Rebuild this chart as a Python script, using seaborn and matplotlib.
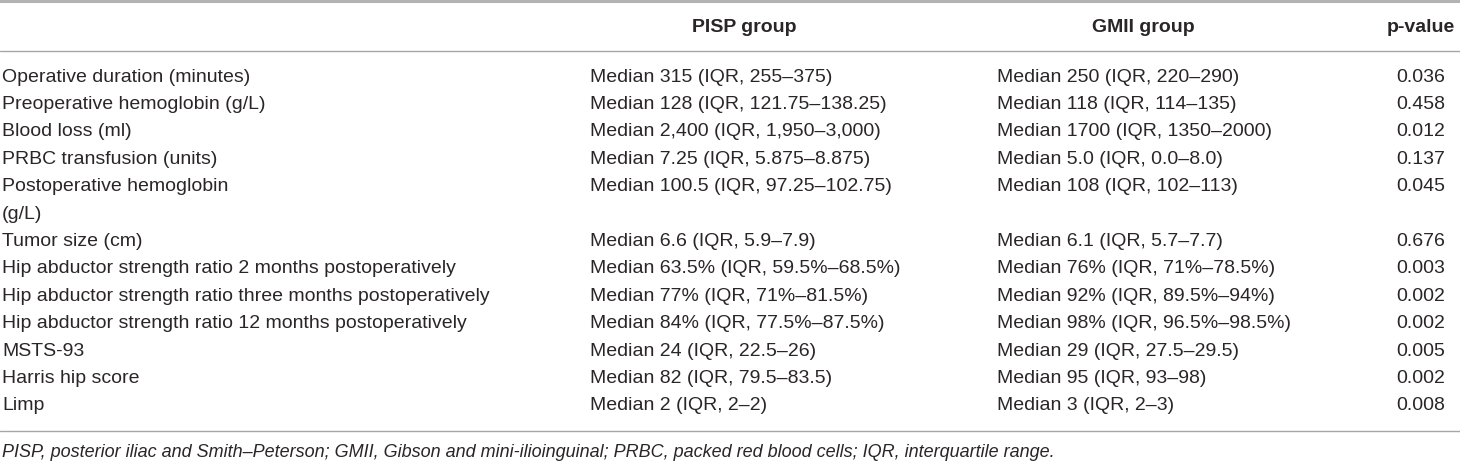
import matplotlib
matplotlib.use("Agg")
import matplotlib.pyplot as plt
import seaborn as sns

sns.set_style("white")
plt.rcParams['font.family'] = ['Liberation Sans', 'DejaVu Sans']

# table content
headers = ['PISP group', 'GMII group', 'p-value']
variables = [
    'Operative duration (minutes)',
    'Preoperative hemoglobin (g/L)',
    'Blood loss (ml)',
    'PRBC transfusion (units)',
    'Postoperative hemoglobin\n(g/L)',
    'Tumor size (cm)',
    'Hip abductor strength ratio 2 months postoperatively',
    'Hip abductor strength ratio three months postoperatively',
    'Hip abductor strength ratio 12 months postoperatively',
    'MSTS-93',
    'Harris hip score',
    'Limp',
]
pisp = [
    'Median 315 (IQR, 255–375)',
    'Median 128 (IQR, 121.75–138.25)',
    'Median 2,400 (IQR, 1,950–3,000)',
    'Median 7.25 (IQR, 5.875–8.875)',
    'Median 100.5 (IQR, 97.25–102.75)',
    'Median 6.6 (IQR, 5.9–7.9)',
    'Median 63.5% (IQR, 59.5%–68.5%)',
    'Median 77% (IQR, 71%–81.5%)',
    'Median 84% (IQR, 77.5%–87.5%)',
    'Median 24 (IQR, 22.5–26)',
    'Median 82 (IQR, 79.5–83.5)',
    'Median 2 (IQR, 2–2)',
]
gmii = [
    'Median 250 (IQR, 220–290)',
    'Median 118 (IQR, 114–135)',
    'Median 1700 (IQR, 1350–2000)',
    'Median 5.0 (IQR, 0.0–8.0)',
    'Median 108 (IQR, 102–113)',
    'Median 6.1 (IQR, 5.7–7.7)',
    'Median 76% (IQR, 71%–78.5%)',
    'Median 92% (IQR, 89.5%–94%)',
    'Median 98% (IQR, 96.5%–98.5%)',
    'Median 29 (IQR, 27.5–29.5)',
    'Median 95 (IQR, 93–98)',
    'Median 3 (IQR, 2–3)',
]
pvalues = ['0.036', '0.458', '0.012', '0.137', '0.045', '0.676',
           '0.003', '0.002', '0.002', '0.005', '0.002', '0.008']
footnote = ('PISP, posterior iliac and Smith–Peterson; GMII, Gibson and mini-ilioinguinal; '
            'PRBC, packed red blood cells; IQR, interquartile range.')

W, H = 1460, 461
fig = plt.figure(figsize=(W / 100, H / 100), dpi=100)
ax = fig.add_axes([0, 0, 1, 1])
ax.set_xlim(0, W)
ax.set_ylim(H, 0)
ax.axis('off')

txt = '#2a2627'
fs = 14

# rules
ax.axhline(1.2, color='#b3b3b3', lw=2.2)
ax.axhline(51, color='#a6a6a6', lw=1.0)
ax.axhline(431, color='#a6a6a6', lw=1.0)

# header
ax.text(744, 27, headers[0], ha='center', va='center', fontsize=fs, fontweight='bold', color=txt)
ax.text(1143, 27, headers[1], ha='center', va='center', fontsize=fs, fontweight='bold', color=txt)
ax.text(1421, 27, headers[2], ha='center', va='center', fontsize=fs, fontweight='bold', color=txt)

# body rows
y = 77
step = 27.4
for var, a, b, p in zip(variables, pisp, gmii, pvalues):
    lines = var.split('\n')
    for k, line in enumerate(lines):
        ax.text(2, y + k * step, line, ha='left', va='center', fontsize=fs, color=txt)
    ax.text(590, y, a, ha='left', va='center', fontsize=fs, color=txt)
    ax.text(997, y, b, ha='left', va='center', fontsize=fs, color=txt)
    ax.text(1421, y, p, ha='center', va='center', fontsize=fs, color=txt)
    y += step * len(lines)

ax.text(2, 452, footnote, ha='left', va='center', fontsize=13, style='italic', color=txt)

fig.savefig('out.png', dpi=100)
